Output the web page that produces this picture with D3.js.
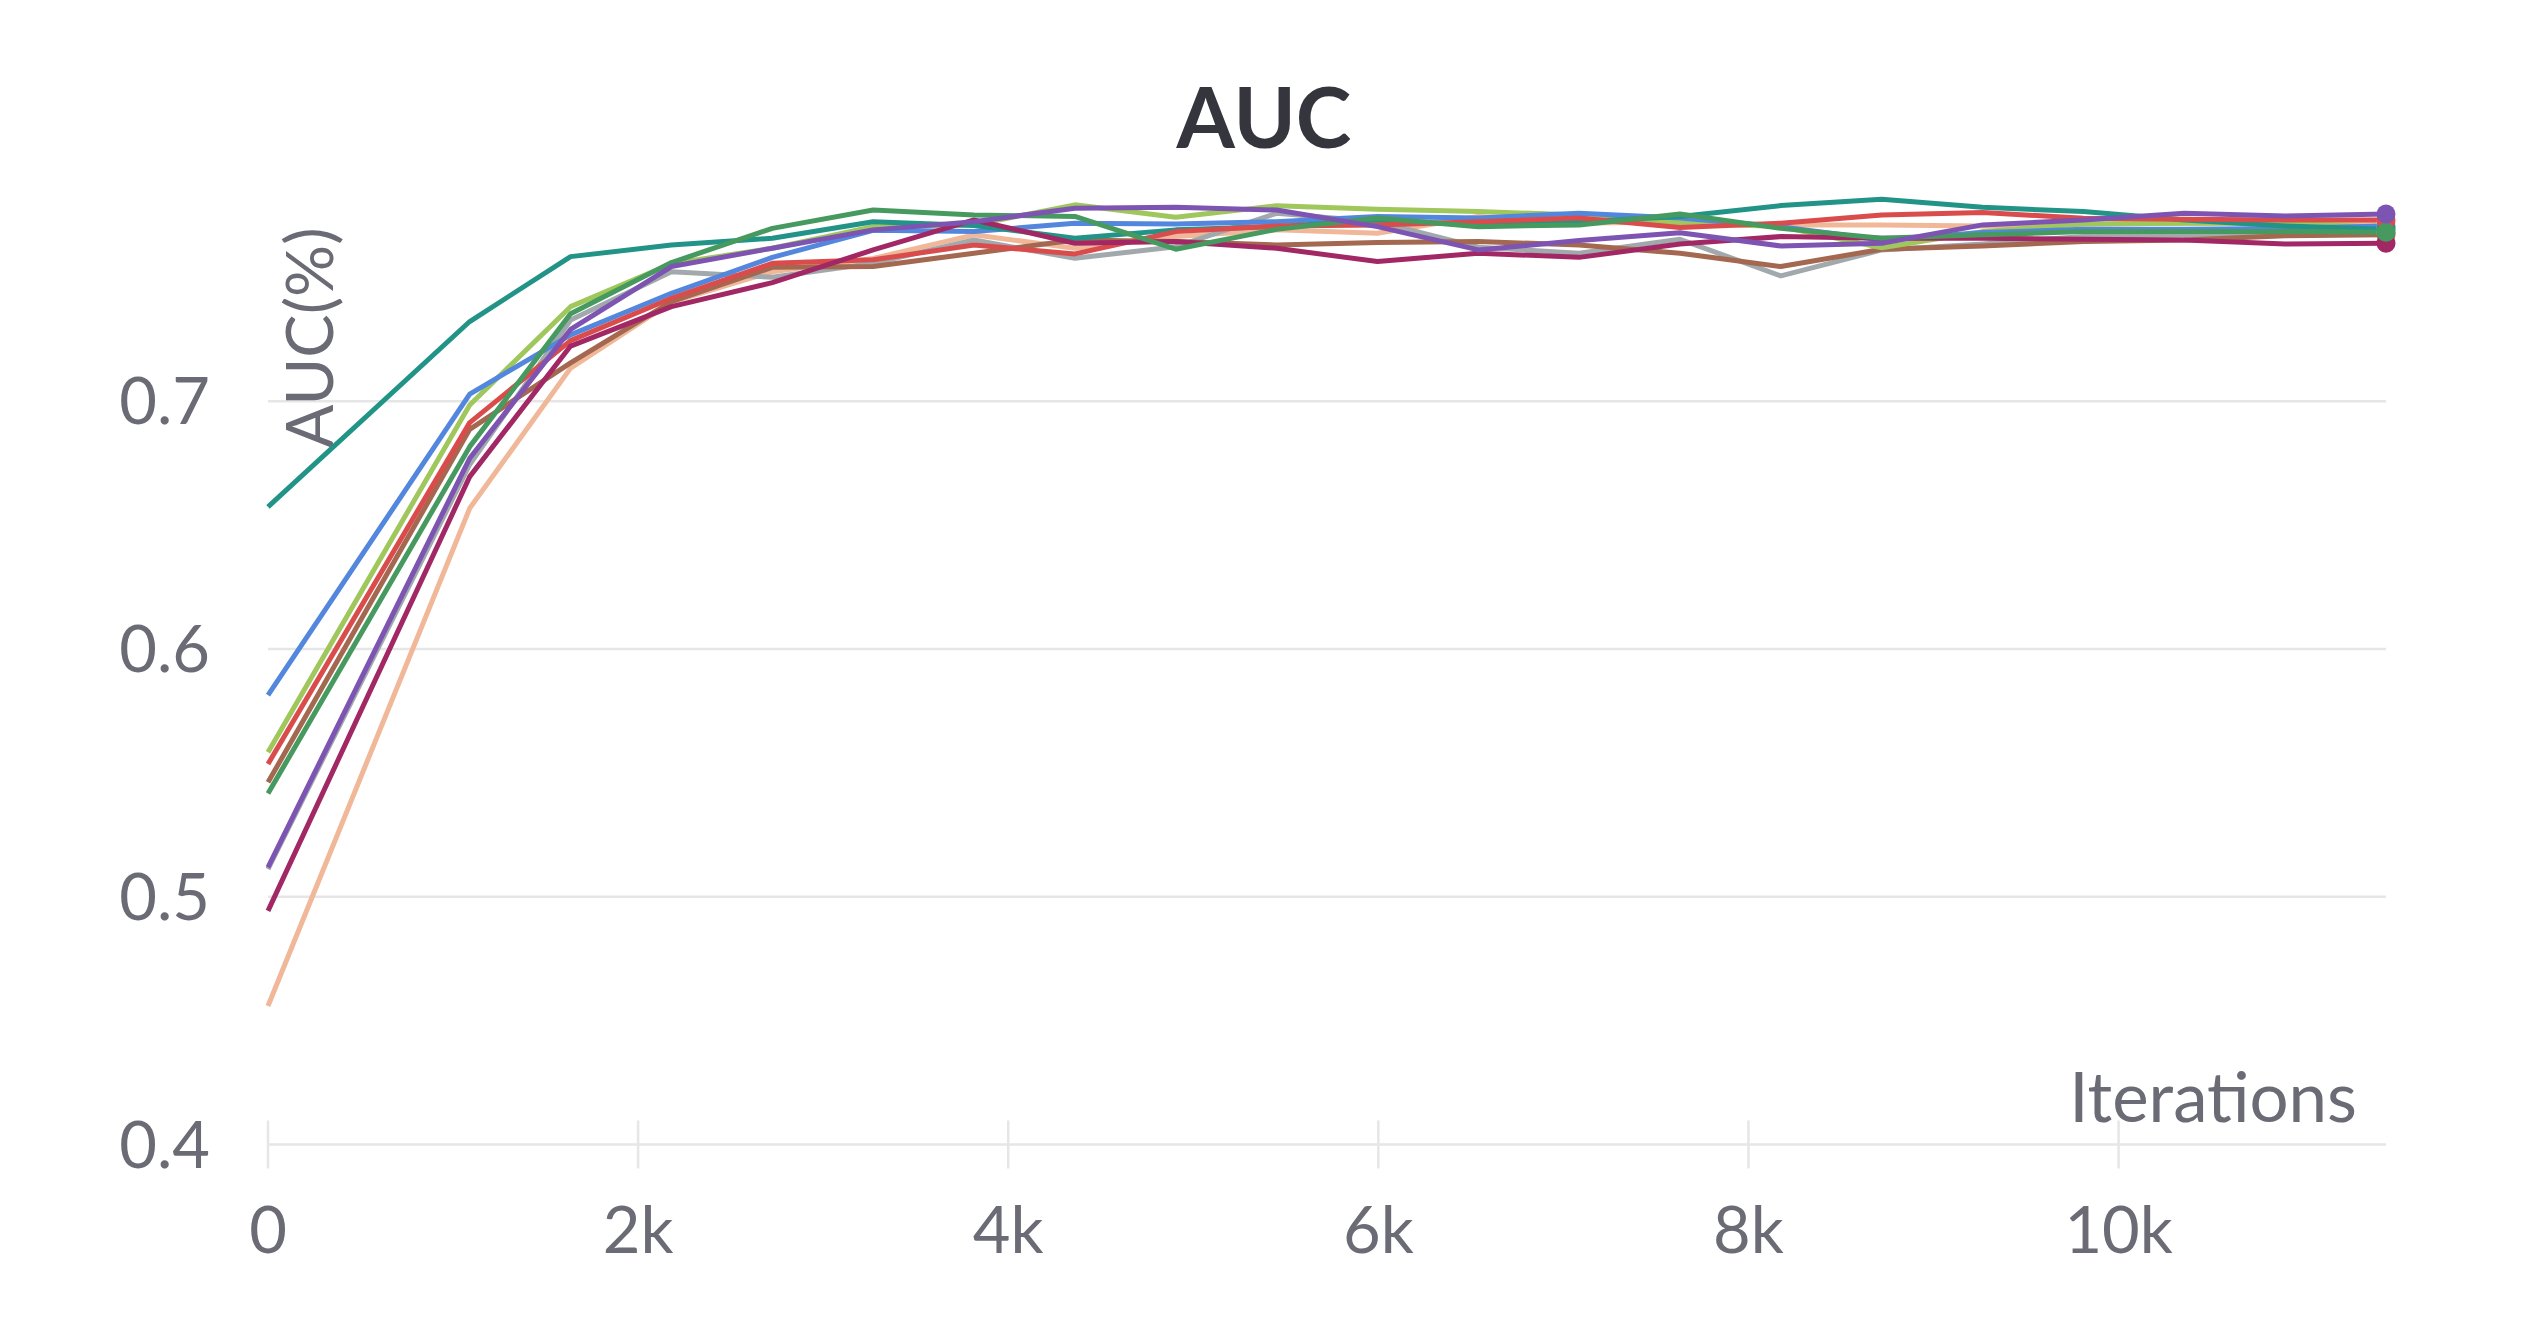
<!DOCTYPE html>
<html lang="en">

<head>
    <meta charset="UTF-8">
    <title>AUC</title>
    <style>
        body { margin: 0; background: #fff; }
        svg { display: block; }
    </style>
</head>

<body>
    <svg></svg>
    <script src="https://d3js.org/d3.v7.min.js"></script>

    <script>
        // iterations at which AUC was logged
        var iterations = [0, 1090, 1635, 2180, 2725, 3270, 3815, 4360, 4905, 5450, 5995, 6540, 7085, 7630, 8175, 8720, 9265, 9810, 10355, 10900, 11445];

        var teal = [0.6574, 0.7322, 0.7584, 0.7631, 0.7658, 0.7725, 0.7710, 0.7658, 0.7692, 0.7705, 0.7732, 0.7712, 0.7725, 0.7746, 0.7790, 0.7816, 0.7783, 0.7766, 0.7732, 0.7708, 0.7694];
        var blue = [0.5814, 0.7029, 0.7268, 0.7436, 0.7581, 0.7690, 0.7685, 0.7719, 0.7716, 0.7725, 0.7746, 0.7740, 0.7759, 0.7740, 0.7705, 0.7651, 0.7681, 0.7694, 0.7694, 0.7698, 0.7708];
        var lightGreen = [0.5583, 0.6985, 0.7382, 0.7555, 0.7618, 0.7705, 0.7712, 0.7793, 0.7743, 0.7789, 0.7775, 0.7766, 0.7752, 0.7720, 0.7705, 0.7620, 0.7685, 0.7716, 0.7719, 0.7719, 0.7702];
        var red = [0.5536, 0.6914, 0.7245, 0.7416, 0.7557, 0.7571, 0.7631, 0.7595, 0.7685, 0.7708, 0.7712, 0.7725, 0.7740, 0.7702, 0.7719, 0.7752, 0.7762, 0.7739, 0.7735, 0.7732, 0.7732];
        var brown = [0.5462, 0.6887, 0.7155, 0.7402, 0.7541, 0.7544, 0.7598, 0.7651, 0.7645, 0.7631, 0.7641, 0.7645, 0.7631, 0.7598, 0.7544, 0.7614, 0.7627, 0.7645, 0.7651, 0.7668, 0.7672];
        var green = [0.5417, 0.6817, 0.7353, 0.7560, 0.7698, 0.7772, 0.7752, 0.7746, 0.7614, 0.7694, 0.7740, 0.7705, 0.7712, 0.7756, 0.7698, 0.7658, 0.7672, 0.7685, 0.7685, 0.7685, 0.7682];
        var purple = [0.5119, 0.6770, 0.7290, 0.7544, 0.7618, 0.7692, 0.7725, 0.7779, 0.7783, 0.7772, 0.7705, 0.7611, 0.7649, 0.7680, 0.7627, 0.7638, 0.7712, 0.7732, 0.7759, 0.7748, 0.7756];
        var gray = [0.5112, 0.6745, 0.7328, 0.7523, 0.7501, 0.7557, 0.7651, 0.7577, 0.7624, 0.7759, 0.7725, 0.7622, 0.7598, 0.7654, 0.7506, 0.7611, 0.7635, 0.7665, 0.7672, 0.7676, 0.7678];
        var crimson = [0.4943, 0.6696, 0.7223, 0.7382, 0.7479, 0.7611, 0.7732, 0.7638, 0.7645, 0.7618, 0.7564, 0.7598, 0.7581, 0.7635, 0.7665, 0.7658, 0.7658, 0.7654, 0.7651, 0.7635, 0.7638];
        var peach = [0.4559, 0.6568, 0.7134, 0.7400, 0.7523, 0.7577, 0.7672, 0.7618, 0.7665, 0.7692, 0.7678, 0.7746, 0.7719, 0.7725, 0.7712, 0.7712, 0.7708, 0.7716, 0.7719, 0.7721, 0.7721];

        var xTicks = [0, 2000, 4000, 6000, 8000, 10000];
        var yTicks = [0.4, 0.5, 0.6, 0.7];

        // drawing order: bottom first
        var runs = [
            { values: peach, color: '#F0B899' },
            { values: gray, color: '#A1A9AD' },
            { values: brown, color: '#A46750' },
            { values: lightGreen, color: '#A0C75C' },
            { values: blue, color: '#5387DD' },
            { values: teal, color: '#229487' },
            { values: red, color: '#DA4C4C' },
            { values: crimson, color: '#A12864' },
            { values: green, color: '#479A5F' },
            { values: purple, color: '#7D54B2' }
        ];

        var svgWidth = 2528,
            svgHeight = 1328,
            textColor = '#6b6b76',
            gridColor = '#e6e6e6',
            font = 'Lato, "Noto Sans", sans-serif';

        var svg = d3.select('svg')
            .attr('width', svgWidth)
            .attr('height', svgHeight)
            .style('font-family', font);

        var x = d3.scaleLinear().domain([0, 11445]).range([268, 2386]);
        var y = d3.scaleLinear().domain([0.4, 0.7]).range([1144.5, 401.3]);

        // horizontal grid
        svg.append('g').selectAll('line').data(yTicks).enter().append('line')
            .attr('x1', x(0)).attr('x2', x(11445))
            .attr('y1', d => y(d)).attr('y2', d => y(d))
            .attr('stroke', gridColor).attr('stroke-width', 2.5);

        // x tick marks
        svg.append('g').selectAll('line').data(xTicks).enter().append('line')
            .attr('x1', d => x(d)).attr('x2', d => x(d))
            .attr('y1', y(0.4) - 24).attr('y2', y(0.4) + 24)
            .attr('stroke', gridColor).attr('stroke-width', 2.5);

        // tick labels
        svg.append('g').selectAll('text').data(yTicks).enter().append('text')
            .attr('x', 210).attr('y', d => y(d) + 23)
            .attr('text-anchor', 'end')
            .attr('font-size', 65).attr('fill', textColor)
            .text(d => d3.format('.1f')(d));

        svg.append('g').selectAll('text').data(xTicks).enter().append('text')
            .attr('x', d => x(d)).attr('y', 1253)
            .attr('text-anchor', 'middle')
            .attr('font-size', 65).attr('fill', textColor)
            .text(d => d === 0 ? '0' : d / 1000 + 'k');

        // axis titles
        svg.append('text')
            .attr('x', 2357).attr('y', 1122)
            .attr('text-anchor', 'end')
            .attr('font-size', 69).attr('fill', textColor)
            .text('Iterations');

        svg.append('text')
            .attr('transform', 'translate(333,338) rotate(-90)')
            .attr('text-anchor', 'middle')
            .attr('font-size', 65).attr('fill', textColor)
            .text('AUC(%)');

        // title
        svg.append('text')
            .attr('x', svgWidth / 2).attr('y', 148)
            .attr('text-anchor', 'middle')
            .attr('font-size', 84).attr('font-weight', 'bold')
            .attr('fill', '#35353d')
            .text('AUC');

        var line = d3.line()
            .x((d, i) => x(iterations[i]))
            .y(d => y(d));

        svg.append('g').selectAll('path').data(runs).enter().append('path')
            .attr('d', d => line(d.values))
            .attr('fill', 'none')
            .attr('stroke', d => d.color)
            .attr('stroke-width', 5)
            .attr('stroke-linejoin', 'round');

        // end dots
        var last = iterations.length - 1;
        svg.append('g').selectAll('circle').data(runs).enter().append('circle')
            .attr('cx', x(iterations[last]))
            .attr('cy', d => y(d.values[last]))
            .attr('r', 9.5)
            .attr('fill', d => d.color);
    </script>

</body>

</html>
